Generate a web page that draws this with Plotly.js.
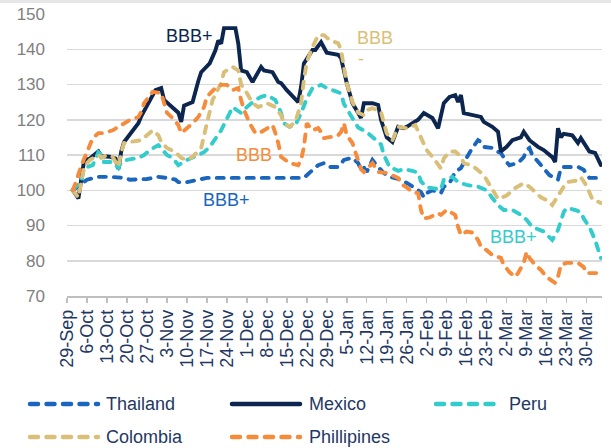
<!DOCTYPE html>
<html>
<head>
<meta charset="utf-8">
<script src="https://cdn.plot.ly/plotly-3.0.1.min.js"></script>
<style>
  html, body { margin: 0; padding: 0; background: #ffffff; }
  #chart { width: 611px; height: 448px; }
  .scatterlayer .js-line, .shapelayer path { stroke-linecap: round; }
</style>
</head>
<body>
<div id="chart"></div>
<script>
// Sovereign spread index, rebased to 100 (29-Sep-2014 .. early Apr-2015)

const thailandDates = ['2014-10-01','2014-10-02','2014-10-04','2014-10-06','2014-10-10','2014-10-14','2014-10-19','2014-10-21','2014-10-27','2014-10-31','2014-11-03','2014-11-06','2014-11-07','2014-11-10','2014-11-17','2014-12-21','2014-12-23','2014-12-26','2014-12-28','2014-12-30','2015-01-02','2015-01-04','2015-01-07','2015-01-09','2015-01-10','2015-01-11','2015-01-12','2015-01-14','2015-01-16','2015-01-18','2015-01-20','2015-01-24','2015-01-27','2015-01-31','2015-02-01','2015-02-02','2015-02-04','2015-02-07','2015-02-08','2015-02-10','2015-02-12','2015-02-14','2015-02-16','2015-02-18','2015-02-20','2015-02-21','2015-02-22','2015-02-25','2015-02-27','2015-02-28','2015-03-02','2015-03-03','2015-03-06','2015-03-08','2015-03-09','2015-03-10','2015-03-11','2015-03-13','2015-03-15','2015-03-17','2015-03-19','2015-03-20','2015-03-21','2015-03-22','2015-03-27','2015-03-29','2015-03-31','2015-04-04'];
const thailandValues = [100,100.6,102,103,103.8,103.8,103.5,103,103.2,103.8,103.5,103,102.3,102.3,103.5,103.5,105,107.1,107.7,106.6,106.6,108.6,109.2,107.7,105.8,106.5,105.2,108.6,106.6,104.9,103.8,103,101.6,99.5,98,99.2,100,99.2,101,102,105.2,106.3,109.2,112,114.2,113.7,112.3,112,110.9,110.6,108,107.1,107.7,109.4,111.4,112,110,108,106.3,104.3,103.5,103,106.3,106.6,106.6,105.8,103.5,103.5];

const mexicoDates = ['2014-10-01','2014-10-03','2014-10-05','2014-10-07','2014-10-10','2014-10-11','2014-10-14','2014-10-16','2014-10-17','2014-10-18','2014-10-19','2014-10-21','2014-10-24','2014-10-25','2014-10-28','2014-10-30','2014-11-01','2014-11-02','2014-11-07','2014-11-08','2014-11-09','2014-11-12','2014-11-14','2014-11-15','2014-11-18','2014-11-20','2014-11-21','2014-11-22','2014-11-23','2014-11-27','2014-11-28','2014-11-29','2014-12-01','2014-12-03','2014-12-06','2014-12-07','2014-12-10','2014-12-12','2014-12-13','2014-12-15','2014-12-19','2014-12-20','2014-12-21','2014-12-24','2014-12-25','2014-12-27','2014-12-29','2015-01-02','2015-01-03','2015-01-05','2015-01-07','2015-01-09','2015-01-10','2015-01-11','2015-01-14','2015-01-16','2015-01-17','2015-01-19','2015-01-21','2015-01-23','2015-01-25','2015-01-26','2015-01-30','2015-02-01','2015-02-04','2015-02-06','2015-02-08','2015-02-10','2015-02-12','2015-02-13','2015-02-14','2015-02-15','2015-02-18','2015-02-21','2015-02-22','2015-02-25','2015-02-27','2015-02-28','2015-03-02','2015-03-04','2015-03-07','2015-03-08','2015-03-10','2015-03-13','2015-03-15','2015-03-18','2015-03-19','2015-03-20','2015-03-21','2015-03-22','2015-03-25','2015-03-27','2015-03-28','2015-03-30','2015-03-31','2015-04-02','2015-04-03','2015-04-04'];
const mexicoValues = [100,97.7,108.5,109,111,109.7,109.5,109,106,111,113.7,116,119,121,125.6,128.4,129,125.6,122,119.4,124,125,131,133.5,136,139.7,142.5,141.6,146,146,141.6,134,133.5,130.7,135,134,133.5,130.7,130.4,128.4,125,129.3,136,139.8,139.8,142,139,138.4,137.5,130.4,124.7,121.9,120.5,124.7,124.7,124.2,120,115,113.7,118,117.6,118,120,121.9,120.5,117.6,124.7,126.5,127,125,127,121.9,121.3,120.8,119.4,118,116.6,111,112.3,114.2,115,116.6,114.2,112.3,111.4,109.4,108,117.6,115,116,115.6,113.4,114.8,112,111,110.6,108.6,107.2];

const peruDates = ['2014-10-01','2014-10-04','2014-10-05','2014-10-08','2014-10-10','2014-10-11','2014-10-12','2014-10-15','2014-10-17','2014-10-18','2014-10-20','2014-10-24','2014-10-26','2014-10-28','2014-10-31','2014-11-01','2014-11-03','2014-11-05','2014-11-07','2014-11-08','2014-11-10','2014-11-14','2014-11-16','2014-11-18','2014-11-22','2014-11-25','2014-11-26','2014-11-29','2014-12-01','2014-12-04','2014-12-06','2014-12-08','2014-12-11','2014-12-13','2014-12-14','2014-12-16','2014-12-18','2014-12-20','2014-12-22','2014-12-24','2014-12-27','2014-12-29','2014-12-31','2015-01-03','2015-01-04','2015-01-07','2015-01-09','2015-01-12','2015-01-14','2015-01-17','2015-01-18','2015-01-20','2015-01-23','2015-01-25','2015-01-28','2015-01-30','2015-01-31','2015-02-02','2015-02-04','2015-02-07','2015-02-08','2015-02-11','2015-02-13','2015-02-16','2015-02-20','2015-02-23','2015-02-25','2015-02-27','2015-03-01','2015-03-04','2015-03-07','2015-03-09','2015-03-11','2015-03-15','2015-03-18','2015-03-20','2015-03-22','2015-03-23','2015-03-26','2015-03-28','2015-03-29','2015-03-31','2015-04-02','2015-04-03','2015-04-04'];
const peruValues = [100,102.8,106.3,107.1,110.8,110,108,108,106.3,108,108.6,109.2,110,111.4,112.8,112,110,109.2,107.1,107.7,108.6,110,110.8,112.3,117,121.9,123.6,121.9,123.6,125.6,126.5,127,125.6,121.9,119,118,118.5,121.9,126,129,129.9,129,128.4,127.5,124.5,120.5,117.8,116.5,115.2,113,110,106.6,105.5,106,105.5,105,102.5,100.8,100.6,100.2,103,103.8,102.3,101.5,101,100,97.8,95.8,94.4,94.4,93,91.6,89.6,88.3,85.9,88.7,93.8,95,94.4,93.8,92,89.6,85.9,83,80.8];

const colombiaDates = ['2014-10-01','2014-10-03','2014-10-05','2014-10-07','2014-10-10','2014-10-11','2014-10-13','2014-10-15','2014-10-17','2014-10-18','2014-10-19','2014-10-22','2014-10-25','2014-10-27','2014-10-29','2014-10-31','2014-11-01','2014-11-03','2014-11-06','2014-11-08','2014-11-10','2014-11-12','2014-11-15','2014-11-17','2014-11-19','2014-11-22','2014-11-23','2014-11-24','2014-11-26','2014-11-28','2014-11-29','2014-12-01','2014-12-03','2014-12-05','2014-12-08','2014-12-11','2014-12-13','2014-12-14','2014-12-16','2014-12-18','2014-12-20','2014-12-21','2014-12-22','2014-12-24','2014-12-26','2014-12-28','2014-12-30','2015-01-02','2015-01-03','2015-01-04','2015-01-05','2015-01-07','2015-01-09','2015-01-11','2015-01-12','2015-01-14','2015-01-17','2015-01-19','2015-01-21','2015-01-23','2015-01-26','2015-01-29','2015-01-31','2015-02-02','2015-02-04','2015-02-07','2015-02-08','2015-02-10','2015-02-12','2015-02-14','2015-02-15','2015-02-18','2015-02-22','2015-02-25','2015-02-27','2015-03-02','2015-03-05','2015-03-08','2015-03-10','2015-03-14','2015-03-16','2015-03-18','2015-03-21','2015-03-23','2015-03-27','2015-03-28','2015-03-30','2015-04-01','2015-04-04'];
const colombiaValues = [100,98,106.6,108.6,110,109.2,110,109.5,106.6,110.8,113.4,113.7,114.2,115.6,117,115.6,113.7,112,110.8,109.2,108.6,109.5,112,119,125.6,130.4,133.5,134,135,134,130,127.6,124.7,123.6,124.7,123.6,121.3,119,118,119.4,124.7,131.3,136.4,140.6,144,144,142.6,141.7,139.8,135,130.4,125,122,121.3,122.7,123.3,122.2,116.2,114.2,118,117.6,118.5,115,111.4,109.5,106.2,109,111,111,109.5,107.7,107,104.3,100.5,97.5,98.5,100.6,102,101,98,97.2,95.8,100,102.3,102.8,103.7,101.3,97.5,96.4];

const phillipinesDates = ['2014-10-01','2014-10-02','2014-10-04','2014-10-05','2014-10-06','2014-10-07','2014-10-08','2014-10-10','2014-10-12','2014-10-13','2014-10-15','2014-10-17','2014-10-19','2014-10-21','2014-10-24','2014-10-25','2014-10-26','2014-10-28','2014-10-29','2014-11-01','2014-11-02','2014-11-03','2014-11-05','2014-11-07','2014-11-08','2014-11-10','2014-11-12','2014-11-14','2014-11-16','2014-11-17','2014-11-20','2014-11-22','2014-11-24','2014-11-26','2014-11-28','2014-11-29','2014-11-30','2014-12-02','2014-12-04','2014-12-06','2014-12-08','2014-12-10','2014-12-11','2014-12-12','2014-12-13','2014-12-14','2014-12-16','2014-12-19','2014-12-20','2014-12-21','2014-12-22','2014-12-24','2014-12-26','2014-12-27','2014-12-28','2014-12-31','2015-01-02','2015-01-03','2015-01-04','2015-01-05','2015-01-07','2015-01-08','2015-01-09','2015-01-10','2015-01-11','2015-01-14','2015-01-16','2015-01-19','2015-01-23','2015-01-24','2015-01-26','2015-01-28','2015-01-30','2015-01-31','2015-02-01','2015-02-03','2015-02-06','2015-02-07','2015-02-09','2015-02-12','2015-02-13','2015-02-14','2015-02-16','2015-02-18','2015-02-20','2015-02-21','2015-02-23','2015-02-25','2015-02-28','2015-03-01','2015-03-03','2015-03-05','2015-03-06','2015-03-08','2015-03-09','2015-03-10','2015-03-12','2015-03-14','2015-03-16','2015-03-19','2015-03-20','2015-03-21','2015-03-23','2015-03-27','2015-03-29','2015-03-30','2015-04-04'];
const phillipinesValues = [100,102,107,108.6,110.8,112.8,114.8,116.2,116.2,116.5,117,118,119,119.9,120.8,122.2,124.7,127,127.9,127.6,124.7,122,120.5,118.5,116.2,117.6,119,120.8,123.6,126.5,129,129.9,129.9,128.4,129,125.6,122.8,119,116.2,116.5,117.6,118.5,116.2,113.4,109.5,109,107.7,107.1,108.6,112.3,119,117,117.6,116.5,114.8,115.2,115.6,116.5,119,115.6,113.4,110.9,108.6,106,105.2,107.7,105.2,104.9,103.5,101.8,100.8,99.5,99.2,94.4,92,92.3,93.5,93,94.4,93,89.6,87.3,88.3,88,85.9,84,83,81.6,80.8,78.8,76.8,75.4,76.5,79.4,82.5,80.8,78.8,77.4,75.4,73.7,75.4,78.8,79.4,79.4,78.2,76.5,76.5];

const seriesNames = ['Thailand', 'Mexico', 'Peru', 'Colombia', 'Phillipines'];
const seriesColors = ['#1A66BE', '#0C2650', '#33CCCC', '#D9BF78', '#F68B3C'];
const seriesDash = ['7px,8px', 'solid', '7px,8px', '7px,8px', '7px,8px'];
const seriesDates = [thailandDates, mexicoDates, peruDates, colombiaDates, phillipinesDates];
const seriesValues = [thailandValues, mexicoValues, peruValues, colombiaValues, phillipinesValues];

const ratingLabels = [
  {text: 'BBB+', color: '#0C2650', px: 189, py: 36, anchor: 'center'},
  {text: 'BBB',  color: '#D9BF78', px: 355, py: 38, anchor: 'left'},
  {text: '-',    color: '#D9BF78', px: 356, py: 59, anchor: 'left'},
  {text: 'BBB',  color: '#F68B3C', px: 254, py: 155, anchor: 'center'},
  {text: 'BBB+', color: '#1A66BE', px: 226, py: 200, anchor: 'center'},
  {text: 'BBB+', color: '#33CCCC', px: 513, py: 237, anchor: 'center'}
];

// plot area in page pixels
const M = {l: 67, r: 9, t: 14, b: 152};
const W = 611, H = 448;
const PW = W - M.l - M.r, PH = H - M.t - M.b;
const px2x = p => (p - M.l) / PW;
const py2y = p => (H - M.b - p) / PH;

const FONT = 'Liberation Sans, Arial, sans-serif';
const NAVY_TEXT = '#1F3864';

const traces = seriesNames.map((name, i) => ({
  type: 'scatter',
  mode: 'lines',
  name: name,
  x: seriesDates[i],
  y: seriesValues[i],
  line: {color: seriesColors[i], width: 3.9, dash: seriesDash[i]},
  showlegend: false,
  hoverinfo: 'skip'
}));

// legend laid out as two rows of three columns
const legendCols = [{x0: 30, x1: 98, tx: 104}, {x0: 232, x1: 300, tx: 307}, {x0: 436, x1: 501, tx: 507}];
const legendRows = [404, 437];
const shapes = [
  {type: 'rect', xref: 'paper', yref: 'paper', x0: px2x(0), x1: px2x(W), y0: py2y(0), y1: py2y(3),
   fillcolor: '#E6E6E6', line: {width: 0}, layer: 'below'}
];
const annotations = [];
seriesNames.forEach((name, i) => {
  const c = legendCols[i % 3], py = legendRows[Math.floor(i / 3)];
  shapes.push({type: 'line', xref: 'paper', yref: 'paper',
    x0: px2x(c.x0), x1: px2x(c.x1), y0: py2y(py), y1: py2y(py),
    line: {color: seriesColors[i], width: 4.5, dash: seriesDash[i] === 'solid' ? 'solid' : '8px,8.5px'}});
  annotations.push({xref: 'paper', yref: 'paper', x: px2x(c.tx), y: py2y(py),
    xanchor: 'left', yanchor: 'middle', showarrow: false, text: name,
    font: {family: FONT, size: 18, color: NAVY_TEXT}});
});
ratingLabels.forEach(r => annotations.push({
  xref: 'paper', yref: 'paper', x: px2x(r.px), y: py2y(r.py),
  xanchor: r.anchor, yanchor: 'middle', showarrow: false, text: r.text,
  font: {family: FONT, size: 18, color: r.color}
}));

const layout = {
  width: W, height: H,
  margin: M,
  paper_bgcolor: '#ffffff', plot_bgcolor: '#ffffff',
  font: {family: FONT},
  showlegend: false,
  xaxis: {
    type: 'date',
    range: ['2014-09-29', '2015-04-04 10:00'],
    tick0: '2014-09-29', dtick: 7 * 86400000,
    tickformat: '%-d-%b', tickangle: -90,
    tickfont: {family: FONT, size: 18, color: NAVY_TEXT},
    showgrid: false, zeroline: false,
    showline: true, linecolor: '#BFBFBF', linewidth: 1.5,
    ticks: 'outside', ticklen: 5, tickwidth: 1.5, tickcolor: '#BFBFBF'
  },
  yaxis: {
    range: [70, 150], dtick: 10,
    tickfont: {family: FONT, size: 17, color: '#7F7F7F'},
    showgrid: true, gridcolor: '#D9D9D9', gridwidth: 1.5,
    zeroline: false, showline: false, ticks: '',
    ticklabelstandoff: 21
  },
  shapes: shapes,
  annotations: annotations
};

Plotly.newPlot('chart', traces, layout, {displayModeBar: false, staticPlot: true});
</script>
</body>
</html>
